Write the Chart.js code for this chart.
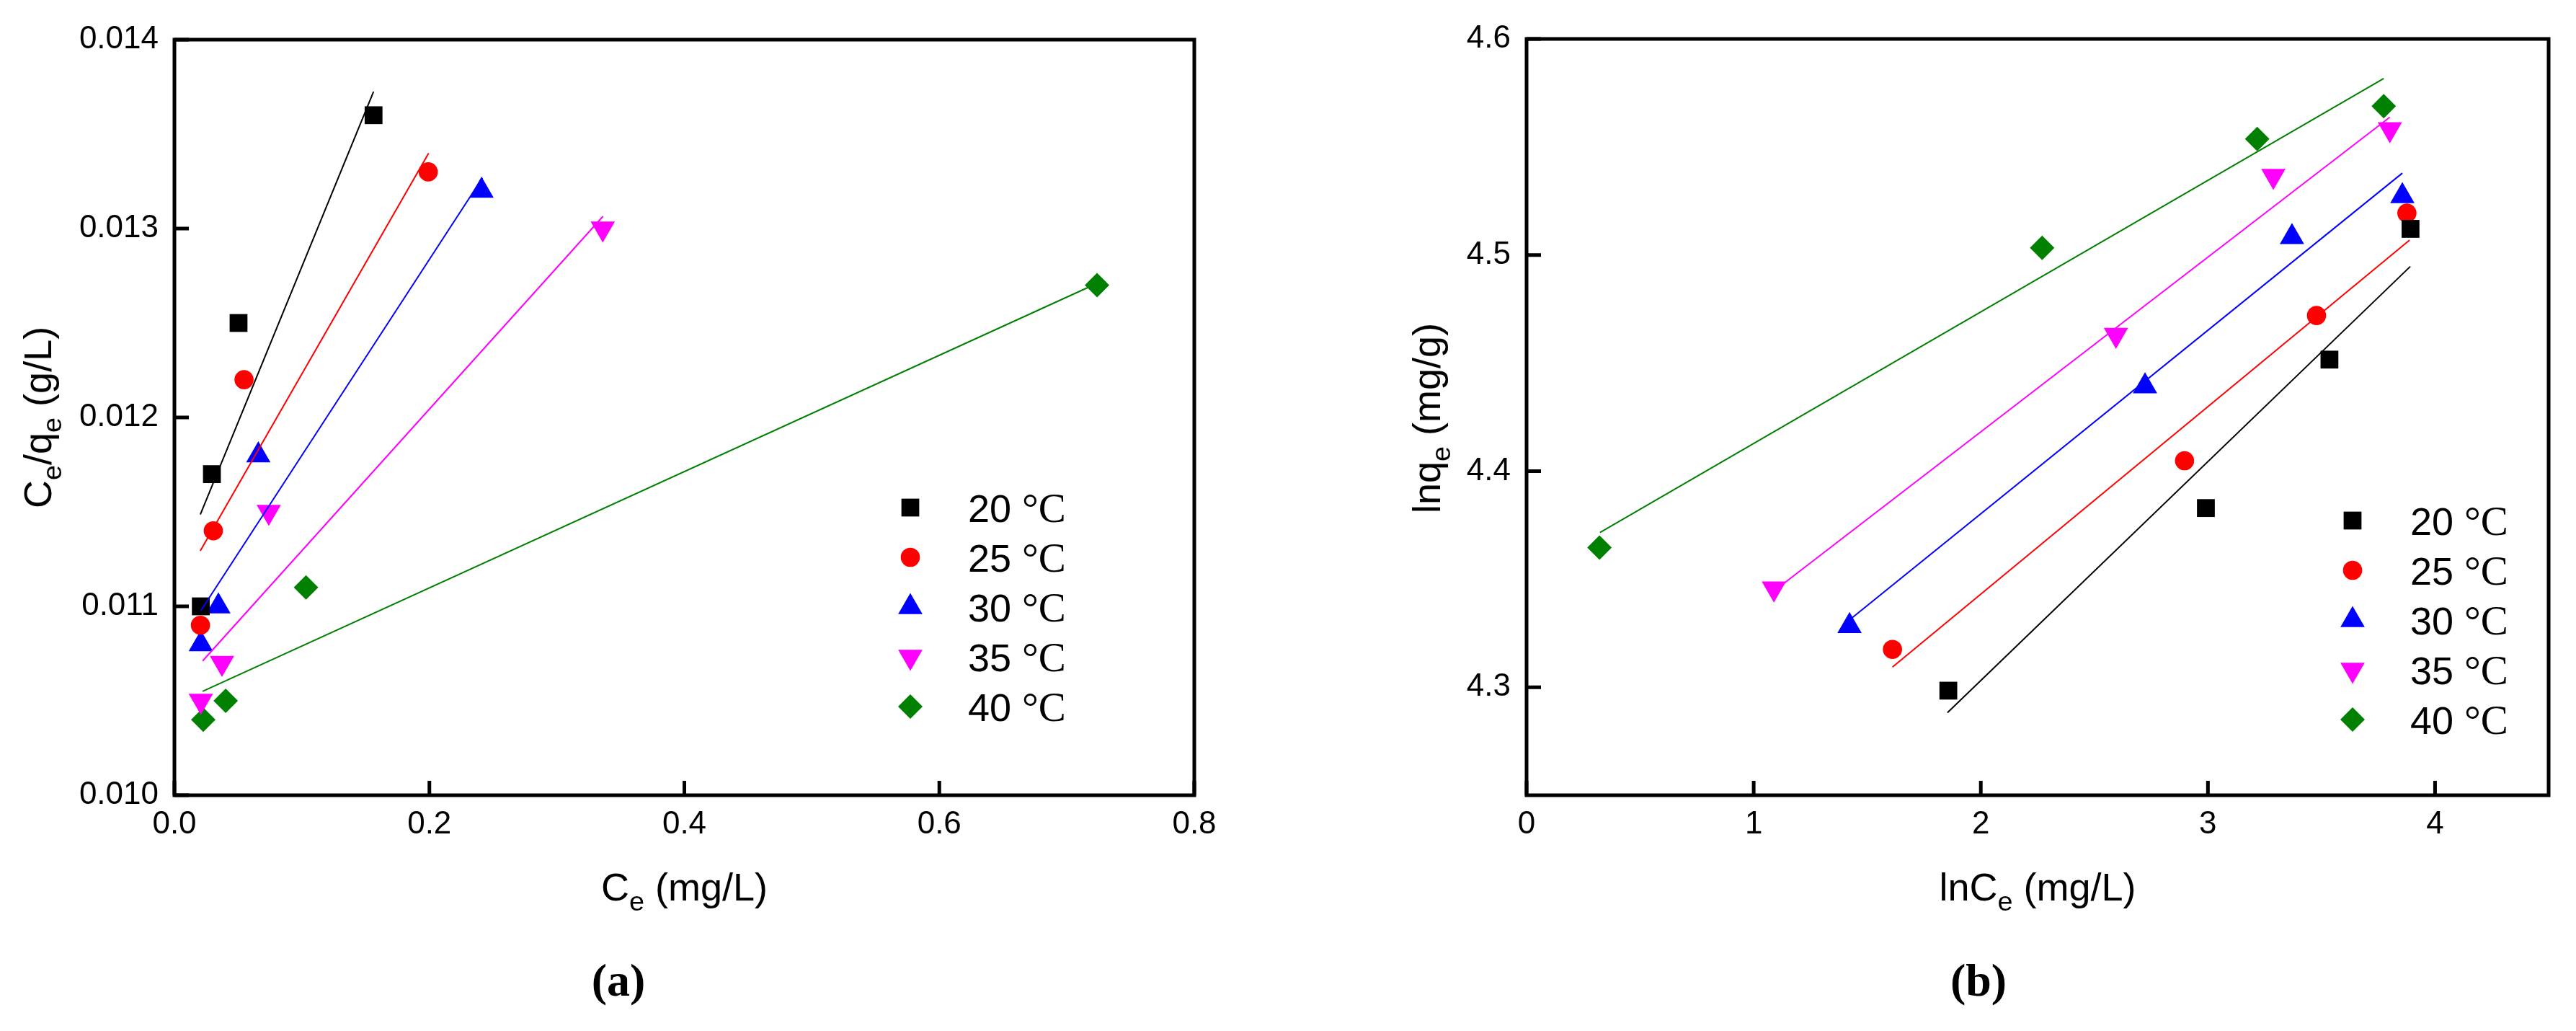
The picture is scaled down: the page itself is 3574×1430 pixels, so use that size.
<!DOCTYPE html>
<html lang="en">
<head>
<meta charset="UTF-8">
<title>Isotherms (a) (b)</title>
<script src="https://cdn.jsdelivr.net/npm/chart.js@4.4.1/dist/chart.umd.min.js"></script>
<style>
    html, body { margin: 0; padding: 0; background: #fff; }
    body { width: 3574px; height: 1430px; position: relative; overflow: hidden; font-family: 'Liberation Sans', Arial, sans-serif; }
    canvas { position: absolute; top: 0; }
    #chartA { left: 0; }
    #chartB { left: 1787px; }
    .axis-title { position: absolute; font-size: 54px; line-height: 54px; white-space: nowrap; color: #000; }
    .axis-title sub { font-size: 0.7em; line-height: 0; vertical-align: baseline; position: relative; top: 0.38em; }
    .x-title { text-align: center; }
    .y-title { transform: translate(-50%, -50%) rotate(-90deg); }
    .panel-label { position: absolute; font-family: 'Liberation Serif', 'Times New Roman', serif; font-weight: bold; font-size: 64px; line-height: 64px; transform: translateX(-50%); }
</style>
</head>
<body>
<canvas id="chartA" width="1787" height="1430"></canvas>
<canvas id="chartB" width="1787" height="1430"></canvas>

<div class="axis-title x-title" style="left:242px; width:1415px; top:1203px;">C<sub>e</sub> (mg/L)</div>
<div class="axis-title y-title" style="left:52px; top:579px;">C<sub>e</sub>/q<sub>e</sub> (g/L)</div>
<div class="panel-label" style="left:858px; top:1328px;">(a)</div>

<div class="axis-title x-title" style="left:2118px; width:1418px; top:1203px;">lnC<sub>e</sub> (mg/L)</div>
<div class="axis-title y-title" style="left:1979px; top:580px;">lnq<sub>e</sub> (mg/g)</div>
<div class="panel-label" style="left:2745px; top:1328px;">(b)</div>

<script>
// ---------------------------
// Серии (температуры)
// ---------------------------
const tempLabels = ['20 ℃', '25 ℃', '30 ℃', '35 ℃', '40 ℃'];

// (a) Ce / (Ce/qe): точки
const ceA = [
    [0.0207, 0.0294, 0.0503, 0.1562],
    [0.0204, 0.0305, 0.0546, 0.1991],
    [0.0207, 0.0345, 0.0658, 0.2409],
    [0.0207, 0.0373, 0.0740, 0.3360],
    [0.0226, 0.0402, 0.1032, 0.7237]
];
const ceQeA = [
    [0.0110, 0.0117, 0.0125, 0.0136],
    [0.0109, 0.0114, 0.0122, 0.0133],
    [0.0108, 0.0110, 0.0118, 0.0132],
    [0.0105, 0.0107, 0.0115, 0.0130],
    [0.0104, 0.0105, 0.0111, 0.0127]
];
// (a) линии аппроксимации (начало и конец)
const fitCeA = [
    [0.0203, 0.1562],
    [0.0203, 0.1994],
    [0.0207, 0.2416],
    [0.0221, 0.3362],
    [0.0221, 0.7237]
];
const fitCeQeA = [
    [0.011486, 0.013725],
    [0.011294, 0.013399],
    [0.010977, 0.013268],
    [0.010711, 0.013065],
    [0.010550, 0.012710]
];
const xTicksA = [0, 0.2, 0.4, 0.6, 0.8];
const yTicksA = [0.010, 0.011, 0.012, 0.013, 0.014];

// (b) lnCe / lnqe: точки
const lnCeB = [
    [1.857, 2.991, 3.535, 3.892],
    [1.611, 2.897, 3.478, 3.876],
    [1.422, 2.723, 3.370, 3.856],
    [1.089, 2.595, 3.288, 3.801],
    [0.321, 2.270, 3.217, 3.774]
];
const lnQeB = [
    [4.2984, 4.3829, 4.4516, 4.5121],
    [4.3175, 4.4048, 4.4720, 4.5194],
    [4.3283, 4.4393, 4.5083, 4.5273],
    [4.3457, 4.4630, 4.5366, 4.5582],
    [4.3646, 4.5033, 4.5537, 4.5689]
];
// (b) линии аппроксимации
const fitLnCeB = [
    [1.853, 3.891],
    [1.611, 3.888],
    [1.425, 3.856],
    [1.089, 3.801],
    [0.323, 3.774]
];
const fitLnQeB = [
    [4.2882, 4.4947],
    [4.3093, 4.5069],
    [4.3314, 4.5379],
    [4.3445, 4.5638],
    [4.3716, 4.5817]
];
const xTicksB = [0, 1, 2, 3, 4];
const yTicksB = [4.3, 4.4, 4.5, 4.6];

// ---------------------------
// Стили маркеров
// ---------------------------
const seriesColors = ['#000000', '#ff0000', '#0000ff', '#ff00ff', '#008000'];
const markerStyles = ['rect', 'circle', 'triangle', 'triangle', 'rectRot'];
const markerRotations = [0, 0, 0, 180, 0];
const markerRadii = [17.5, 13.3, 19.5, 19.5, 17];

const sansFont = "'Liberation Sans', Arial, sans-serif";
const serifFont = "'Liberation Serif', 'Times New Roman', serif";

// Сначала линии (рисуются поверх), потом точки
function buildDatasets(xs, ys, fitXs, fitYs) {
    const fits = fitXs.map((fx, i) => ({
        label: tempLabels[i] + ' fit',
        isFit: true,
        data: fx.map((x, j) => ({ x, y: fitYs[i][j] })),
        showLine: true,
        borderColor: seriesColors[i],
        borderWidth: 2,
        pointRadius: 0,
        pointHoverRadius: 0,
        fill: false,
        tension: 0
    }));
    const points = xs.map((sx, i) => ({
        label: tempLabels[i],
        data: sx.map((x, j) => ({ x, y: ys[i][j] })),
        showLine: false,
        pointStyle: markerStyles[i],
        pointRotation: markerRotations[i],
        pointRadius: markerRadii[i],
        pointHoverRadius: markerRadii[i],
        pointBackgroundColor: seriesColors[i],
        pointBorderColor: seriesColors[i],
        pointBorderWidth: 0
    }));
    return fits.concat(points);
}

// Рамка, внутренние засечки и легенда
const framePlugin = {
    id: 'frame',
    afterDatasetsDraw(chart, args, opts) {
        const { ctx, chartArea: a, scales } = chart;
        ctx.save();
        ctx.strokeStyle = '#000';
        ctx.lineWidth = 5;
        ctx.lineCap = 'butt';
        ctx.strokeRect(a.left, a.top, a.right - a.left, a.bottom - a.top);

        ctx.beginPath();
        scales.x.ticks.forEach(t => {
            const px = scales.x.getPixelForValue(t.value);
            ctx.moveTo(px, a.bottom);
            ctx.lineTo(px, a.bottom - 20);
        });
        scales.y.ticks.forEach(t => {
            const py = scales.y.getPixelForValue(t.value);
            ctx.moveTo(a.left, py);
            ctx.lineTo(a.left + 20, py);
        });
        ctx.stroke();

        // Легенда
        const items = chart.data.datasets.filter(d => !d.isFit);
        items.forEach((ds, i) => {
            const cx = a.right + opts.legendDx;
            const cy = a.bottom + opts.legendDy + i * 69;
            ctx.fillStyle = ds.pointBackgroundColor;
            Chart.helpers.drawPoint(ctx, {
                pointStyle: ds.pointStyle,
                rotation: ds.pointRotation,
                radius: ds.pointRadius,
                borderWidth: 0
            }, cx, cy);

            const num = ds.label.split(' ')[0];
            const tx = cx + 80;
            ctx.fillStyle = '#000';
            ctx.textAlign = 'left';
            ctx.textBaseline = 'alphabetic';
            ctx.font = '54px ' + sansFont;
            ctx.fillText(num + ' ', tx, cy + 20);
            const w = ctx.measureText(num + ' ').width;
            ctx.font = '57px ' + serifFont;
            ctx.fillText('°C', tx + w, cy + 20);
        });
        ctx.restore();
    }
};

function axis(min, max, ticksArr, digits, isX, size) {
    return {
        type: 'linear',
        min,
        max,
        afterBuildTicks: scale => {
            scale.ticks = ticksArr.map(v => ({ value: v }));
        },
        afterFit: scale => {
            if (isX) scale.height = size; else scale.width = size;
        },
        grid: { display: false, drawTicks: false },
        border: { display: false },
        ticks: {
            color: '#000',
            font: { family: sansFont, size: 44 },
            padding: isX ? 14 : 22,
            maxRotation: 0,
            autoSkip: false,
            callback: v => Number(v).toFixed(digits)
        }
    };
}

function makeChart(id, datasets, xAxis, yAxis, padding, legendDx, legendDy) {
    const ctx = document.getElementById(id).getContext('2d');
    return new Chart(ctx, {
        type: 'scatter',
        data: { datasets },
        options: {
            responsive: false,
            animation: false,
            events: [],
            layout: { padding },
            plugins: {
                legend: { display: false },
                tooltip: { enabled: false },
                frame: { legendDx, legendDy }
            },
            scales: { x: xAxis, y: yAxis }
        },
        plugins: [framePlugin]
    });
}

document.addEventListener('DOMContentLoaded', () => {
    // (a)
    makeChart('chartA',
        buildDatasets(ceA, ceQeA, fitCeA, fitCeQeA),
        axis(0, 0.8, xTicksA, 1, true, 327),
        axis(0.010, 0.014, yTicksA, 3, false, 242),
        { left: 0, top: 55, right: 130, bottom: 0 },
        -394, -399);

    // (b)
    makeChart('chartB',
        buildDatasets(lnCeB, lnQeB, fitLnCeB, fitLnQeB),
        axis(0, 4.5, xTicksB, 0, true, 327),
        axis(4.25, 4.6, yTicksB, 1, false, 331),
        { left: 0, top: 54, right: 38, bottom: 0 },
        -272, -381);
});
</script>
</body>
</html>
